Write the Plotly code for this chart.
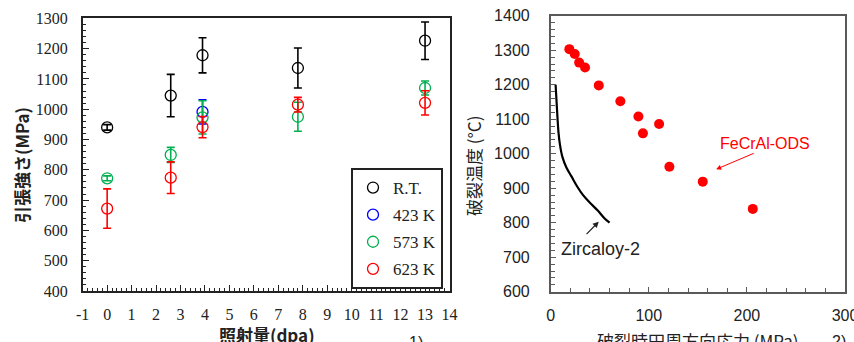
import plotly.graph_objects as go

# ---------------- Left chart data ----------------
dose_rt = [0, 2.6, 3.9, 7.8, 13]
ts_rt = [940, 1045, 1178, 1136, 1226]
err_rt = [9, 70, 58, 66, 62]

dose_423 = [3.9]
ts_423 = [991]
err_423 = [40]

dose_573 = [0, 2.6, 3.9, 7.8, 13]
ts_573 = [772, 849, 973, 975, 1070]
err_573 = [8, 25, 55, 48, 23]

dose_623 = [0, 2.6, 3.9, 7.8, 13]
ts_623 = [672, 774, 941, 1015, 1021]
err_623 = [65, 52, 35, 24, 40]

series_names = ["R.T.", "423 K", "573 K", "623 K"]
series_colors = ["#000000", "#0000ff", "#00b050", "#ff0000"]

dose_tick_vals = list(range(-1, 15))
dose_tick_text = ["-1", "0", "1", "2", "3", "4", "5", "6", "7", "8", "9", "10", "11", "12", "13", "14"]

# ---------------- Right chart data ----------------
fecral_stress = [19, 24.5, 29, 35, 49, 71, 89.4, 110.5, 94, 121, 155, 206]
fecral_temp = [1303, 1289, 1264, 1250, 1198, 1152, 1108, 1086, 1059, 962, 919, 840]

zry_stress = [5, 6, 7, 8, 9.5, 12, 16, 21, 27, 33, 40, 48, 55, 60]
zry_temp = [1200, 1150, 1100, 1060, 1025, 990, 960, 935, 905, 880, 858, 835, 812, 800]

W, H = 854, 342

fig = go.Figure()

left_sets = [(dose_rt, ts_rt, err_rt), (dose_423, ts_423, err_423),
             (dose_573, ts_573, err_573), (dose_623, ts_623, err_623)]
for (xs, ys, es), name, col in zip(left_sets, series_names, series_colors):
    fig.add_trace(go.Scatter(
        x=xs, y=ys, mode="markers", name=name, legendgroup=name,
        marker=dict(symbol="circle-open", size=11, color=col, line=dict(width=1.3, color=col)),
        error_y=dict(type="data", array=es, visible=True, color=col, thickness=1.6, width=4),
        xaxis="x", yaxis="y",
    ))

fig.add_trace(go.Scatter(
    x=zry_stress, y=zry_temp, mode="lines", showlegend=False,
    line=dict(color="black", width=2.2, shape="spline"),
    xaxis="x2", yaxis="y2",
))
fig.add_trace(go.Scatter(
    x=fecral_stress, y=fecral_temp, mode="markers", showlegend=False,
    marker=dict(symbol="circle", size=10, color="#ff0000"),
    xaxis="x2", yaxis="y2",
))

serif = "Liberation Serif"
sans = "Liberation Sans"
cjk = "Noto Sans CJK JP"

ax_common = dict(showgrid=False, zeroline=False, showline=True, mirror=True,
                 automargin=False, ticklabeloverflow="allow")

fig.update_layout(
    width=W, height=H,
    margin=dict(l=0, r=0, t=0, b=0),
    paper_bgcolor="white", plot_bgcolor="white",
    showlegend=True,
    legend=dict(
        x=443 / W, y=(H - 168) / H, xanchor="right", yanchor="top",
        bordercolor="#222222", borderwidth=2, bgcolor="white",
        font=dict(family=serif, size=17, color="#222222"),
        traceorder="grouped", tracegroupgap=2,
        itemwidth=30,
    ),
    xaxis=dict(
        **ax_common, domain=[82.7 / W, 449.5 / W], range=[-1, 14],
        tickmode="array", tickvals=dose_tick_vals, ticktext=dose_tick_text,
        linecolor="#222222", linewidth=1.6,
        ticks="inside", ticklen=6, tickwidth=1.3, tickcolor="#222222",
        minor=dict(dtick=0.2, ticks="inside", ticklen=3, tickwidth=1, tickcolor="#222222"),
        tickfont=dict(family=serif, size=16, color="#222222"),
        ticklabelstandoff=8,
        anchor="y",
    ),
    yaxis=dict(
        **ax_common, domain=[(H - 291) / H, (H - 18.3) / H], range=[400, 1300], dtick=100,
        linecolor="#222222", linewidth=1.6,
        ticks="inside", ticklen=6, tickwidth=1.3, tickcolor="#222222",
        minor=dict(dtick=20, ticks="inside", ticklen=3, tickwidth=1, tickcolor="#222222"),
        tickfont=dict(family=serif, size=16, color="#222222"),
        ticklabelstandoff=10,
        anchor="x",
    ),
    xaxis2=dict(
        **ax_common, domain=[550.7 / W, 845 / W], range=[0, 300], dtick=100,
        linecolor="#595959", linewidth=1.6,
        ticks="inside", ticklen=5, tickwidth=1.2, tickcolor="#595959",
        minor=dict(dtick=20, ticks="inside", ticklen=4, tickwidth=1, tickcolor="#595959"),
        tickfont=dict(family=sans, size=16, color="#222222"),
        ticklabelstandoff=8,
        anchor="y2",
    ),
    yaxis2=dict(
        **ax_common, domain=[(H - 291.7) / H, (H - 15.7) / H], range=[600, 1400], dtick=100,
        linecolor="#595959", linewidth=1.6,
        ticks="inside", ticklen=5, tickwidth=1.2, tickcolor="#595959",
        minor=dict(dtick=20, ticks="inside", ticklen=4, tickwidth=1, tickcolor="#595959"),
        tickfont=dict(family=sans, size=16, color="#222222"),
        ticklabelstandoff=16,
        anchor="x2",
    ),
)

def label(text, x, y, size, family, color="#222222", angle=0, xref="paper", yref="paper"):
    return dict(text=text, xref=xref, yref=yref, x=x, y=y, xanchor="center", yanchor="middle",
                textangle=angle, showarrow=False, font=dict(family=family, size=size, color=color))

annotations = [
    # left axis titles
    label("<b>引張強さ(MPa)</b>", 22 / W, (H - 165) / H, 17, cjk, angle=-90),
    label("<b>照射量(dpa)</b>", 267 / W, (H - 334) / H, 17, cjk),
    label("1)", 416 / W, (H - 342) / H, 16, sans),
    # right axis titles
    label("破裂温度 (°C)", 473 / W, (H - 166) / H, 17, cjk, angle=-90),
    label("破裂時円周方向応力 (MPa)", 698 / W, (H - 340) / H, 17, cjk),
    label("2)", 839 / W, (H - 341) / H, 16, sans),
    # right chart labels
    label("FeCrAl-ODS", 218.7, 1028.7, 16, sans, color="#ff0000", xref="x2", yref="y2"),
    dict(text="", xref="x2", yref="y2", x=168.7, y=954.8, ax=39, ay=-16.6,
         showarrow=True, arrowhead=2, arrowsize=1, arrowwidth=1, arrowcolor="#ff0000"),
    label("Zircaloy-2", 51, 724.6, 18, sans, xref="x2", yref="y2"),
    dict(text="", xref="x2", yref="y2", x=49, y=803, ax=-13.7, ay=14,
         showarrow=True, arrowhead=2, arrowsize=1, arrowwidth=1.2, arrowcolor="#222222"),
]
fig.update_layout(annotations=annotations)

fig.write_html("out.html")
